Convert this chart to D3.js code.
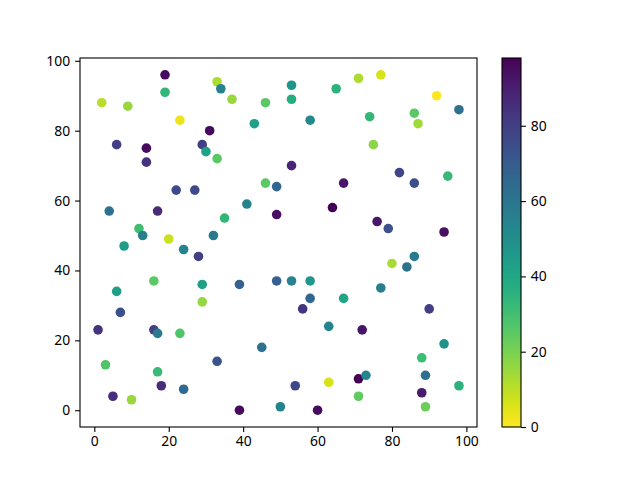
<!DOCTYPE html>
<html>
<head>
<meta charset="utf-8">
<script src="https://cdn.jsdelivr.net/npm/d3@7"></script>
<style>
  body { margin: 0; background: #fff; }
  text { font-family: "Noto Sans", sans-serif; font-size: 13.9px; fill: #000; }
</style>
</head>
<body>
<div id="chart"></div>
<script>
// point positions and colour values
var xs = [19, 33, 34, 19, 2, 9, 37, 46, 23, 43, 31, 6, 14, 29, 30, 33, 14, 22, 27, 46,
  49, 4, 17, 41, 49, 35, 12, 13, 20, 32, 53, 53, 65, 71, 77, 92, 98, 58, 74, 86,
  87, 75, 53, 82, 86, 95, 67, 64, 76, 79, 94, 8, 24, 28, 16, 29, 39, 49, 6, 29,
  7, 1, 16, 17, 23, 45, 3, 33, 17, 18, 24, 5, 10, 39, 50, 80, 86, 84, 53, 58,
  58, 56, 67, 77, 90, 63, 72, 94, 88, 54, 63, 71, 73, 71, 89, 88, 98, 89, 60];
var ys = [96, 94, 92, 91, 88, 87, 89, 88, 83, 82, 80, 76, 75, 76, 74, 72, 71, 63, 63, 65,
  64, 57, 57, 59, 56, 55, 52, 50, 49, 50, 93, 89, 92, 95, 96, 90, 86, 83, 84, 85,
  82, 76, 70, 68, 65, 67, 65, 58, 54, 52, 51, 47, 46, 44, 37, 36, 36, 37, 34, 31,
  28, 23, 23, 22, 22, 18, 13, 14, 11, 7, 6, 4, 3, 0, 1, 42, 44, 41, 37, 37,
  32, 29, 32, 35, 29, 24, 23, 19, 15, 7, 8, 9, 10, 4, 10, 5, 7, 1, 0];
var cs = [95, 12, 55, 33, 10, 15, 15, 25, 3, 42, 96, 80, 95, 80, 42, 25, 84, 76, 76, 25,
  66, 62, 86, 54, 94, 33, 30, 56, 8, 58, 47, 37, 35, 12, 6, 0, 62, 52, 33, 25,
  14, 17, 88, 78, 75, 32, 92, 98, 92, 74, 94, 44, 54, 80, 25, 43, 68, 68, 43, 16,
  74, 84, 80, 58, 27, 62, 27, 73, 32, 86, 64, 85, 15, 95, 54, 13, 58, 61, 55, 46,
  66, 83, 40, 56, 80, 54, 93, 48, 31, 77, 6, 98, 54, 24, 62, 91, 35, 22, 95];
var xTicks = [0, 20, 40, 60, 80, 100];
var yTicks = [0, 20, 40, 60, 80, 100];
var cTicks = [0, 20, 40, 60, 80];

var W = 640, H = 480;
var ax = {left: 80, right: 477, top: 58, bottom: 427};
var cb = {left: 502, right: 521, top: 58, bottom: 427};
var font = "Noto Sans, sans-serif";

var svg = d3.select("#chart").append("svg").attr("width", W).attr("height", H);

function padded(v) {
  var lo = d3.min(v), hi = d3.max(v), m = (hi - lo) * 0.05;
  return [lo - m, hi + m];
}

var x = d3.scaleLinear().domain(padded(xs)).range([ax.left, ax.right]);
var y = d3.scaleLinear().domain(padded(ys)).range([ax.bottom, ax.top]);
var cmin = d3.min(cs), cmax = d3.max(cs);
var color = d3.scaleSequential(function (t) { return d3.interpolateViridis(1 - t); }).domain([cmin, cmax]);

var pts = xs.map(function (d, i) { return {x: d, y: ys[i], c: cs[i]}; });

svg.append("g").selectAll("circle").data(pts).enter().append("circle")
  .attr("cx", function (d) { return x(d.x); })
  .attr("cy", function (d) { return y(d.y); })
  .attr("r", 4.8)
  .attr("fill", function (d) { return color(d.c); });

// axes
var xAxis = svg.append("g").attr("transform", "translate(0," + ax.bottom + ")")
  .call(d3.axisBottom(x).tickValues(xTicks).tickSize(4.9).tickPadding(4).tickFormat(d3.format("d")));
var yAxis = svg.append("g").attr("transform", "translate(" + ax.left + ",0)")
  .call(d3.axisLeft(y).tickValues(yTicks).tickSize(4.9).tickPadding(4.9).tickFormat(d3.format("d")));
[xAxis, yAxis].forEach(function (g) {
  g.select(".domain").remove();
  g.selectAll("line").attr("stroke", "#000").attr("stroke-width", 1.1);
  g.selectAll("text").attr("font-size", 13.9).attr("font-family", font);
});

svg.append("rect").attr("x", ax.left).attr("y", ax.top)
  .attr("width", ax.right - ax.left).attr("height", ax.bottom - ax.top)
  .attr("fill", "none").attr("stroke", "#000").attr("stroke-width", 1.1);

// colorbar as a vertical gradient built from the colour scale
var grad = svg.append("defs").append("linearGradient").attr("id", "cbar")
  .attr("x1", 0).attr("y1", 1).attr("x2", 0).attr("y2", 0);
grad.selectAll("stop").data(d3.range(0, 33)).enter().append("stop")
  .attr("offset", function (i) { return i / 32; })
  .attr("stop-color", function (i) { return color(cmin + i / 32 * (cmax - cmin)); });

var cy = d3.scaleLinear().domain([cmin, cmax]).range([cb.bottom, cb.top]);
svg.append("rect").attr("x", cb.left).attr("y", cb.top)
  .attr("width", cb.right - cb.left).attr("height", cb.bottom - cb.top)
  .attr("fill", "url(#cbar)").attr("stroke", "#000").attr("stroke-width", 1.1);

var cAxis = svg.append("g").attr("transform", "translate(" + cb.right + ",0)")
  .call(d3.axisRight(cy).tickValues(cTicks).tickSize(4.9).tickPadding(4.9).tickFormat(d3.format("d")));
cAxis.select(".domain").remove();
cAxis.selectAll("line").attr("stroke", "#000").attr("stroke-width", 1.1);
cAxis.selectAll("text").attr("font-size", 13.9).attr("font-family", font);
</script>
</body>
</html>
